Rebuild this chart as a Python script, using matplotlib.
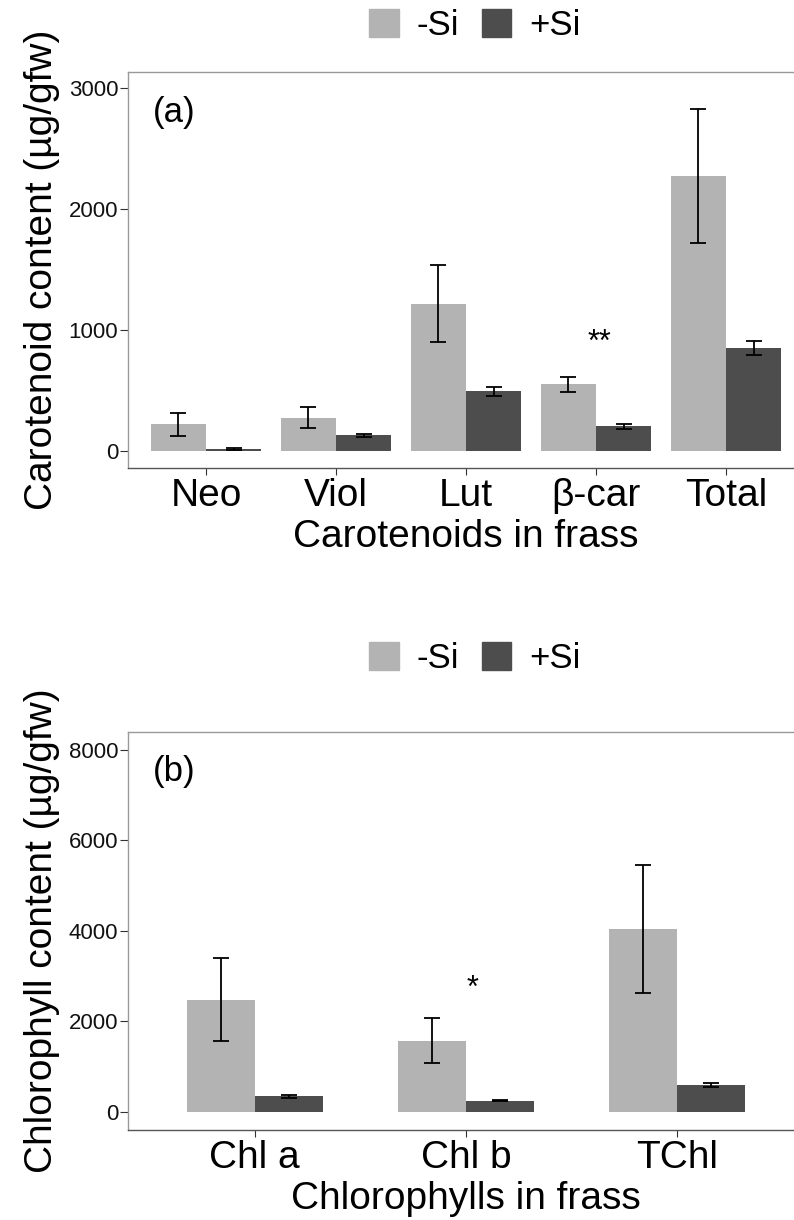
import matplotlib
matplotlib.use("Agg")
import matplotlib.pyplot as plt
from matplotlib.patches import Patch
import numpy as np

plt.rcParams['font.family'] = ['Liberation Sans', 'DejaVu Sans']

# panel (a) carotenoids
car_labels = ["Neo", "Viol", "Lut", "β-car", "Total"]
car_minus = [222, 275, 1216, 550, 2269]
car_minus_se = [95, 88, 317, 63, 555]
car_plus = [18, 130, 492, 203, 851]
car_plus_se = [8, 12, 37, 21, 61]
car_sig = {"β-car": "**"}

# panel (b) chlorophylls
chl_labels = ["Chl a", "Chl b", "TChl"]
chl_minus = [2470, 1570, 4040]
chl_minus_se = [915, 490, 1410]
chl_plus = [345, 245, 590]
chl_plus_se = [33, 15, 50]
chl_sig = {"Chl b": "*"}

light = "#b3b3b3"
dark = "#4d4d4d"

fig = plt.figure(figsize=(7.94, 12.2), dpi=100)
ax1 = fig.add_axes([128/794, 1-468/1220, 676/794, 396/1220])
ax2 = fig.add_axes([128/794, 1-1130/1220, 676/794, 398/1220])


def panel(ax, labels, mn, mn_se, pl, pl_se, w, ylim, yticks, sig, sig_y,
          tag, tag_xy, xlab, ylab, leg_y):
    x = np.arange(1, len(labels) + 1)
    ekw = dict(elinewidth=1.3, capthick=1.3, ecolor="black")
    ax.bar(x - w/2, mn, w, color=light, yerr=mn_se, capsize=6,
           error_kw=ekw, zorder=2)
    ax.bar(x + w/2, pl, w, color=dark, yerr=pl_se, capsize=6,
           error_kw=ekw, zorder=2)
    ax.set_xlim(0.4, len(labels) + 0.6)
    ax.set_ylim(*ylim)
    ax.set_xticks(x)
    ax.set_xticklabels(labels, fontsize=28)
    ax.set_yticks(yticks)
    ax.tick_params(axis="y", labelsize=16, length=6, width=0.8,
                   color="#333333", labelcolor="#111111", pad=1)
    ax.tick_params(axis="x", length=5, width=0.8, color="#333333", pad=2)
    for s in ["top", "left", "right"]:
        ax.spines[s].set_color("#999999")
        ax.spines[s].set_linewidth(1.0)
    ax.spines["bottom"].set_color("#555555")
    ax.spines["bottom"].set_linewidth(1.0)
    for k, v in sig.items():
        i = labels.index(k)
        ax.text(x[i] + 0.03, sig_y, v, fontsize=22, ha="center", va="center")
    ax.text(tag_xy[0], tag_xy[1], tag, fontsize=25, ha="left", va="center")
    ax.set_xlabel(xlab, fontsize=28)
    ax.xaxis.set_label_coords(0.5, -0.128)
    ax.xaxis.label.set_va("top")
    ax.set_ylabel(ylab, fontsize=28)
    ax.yaxis.set_label_coords(-0.10, 0.5)
    handles = [Patch(color=light, label="-Si"), Patch(color=dark, label="+Si")]
    ax.legend(handles=handles, loc="center", bbox_to_anchor=(0.513, leg_y),
              ncol=2, frameon=False, fontsize=25, handlelength=0.86,
              handleheight=0.86, handletextpad=0.5, columnspacing=0.65)


panel(ax1, car_labels, car_minus, car_minus_se, car_plus, car_plus_se,
      0.425, (-140, 3130), [0, 1000, 2000, 3000], car_sig, 893,
      "(a)", (0.592, 2794), "Carotenoids in frass",
      "Carotenoid content (µg/gfw)", 1.118)
panel(ax2, chl_labels, chl_minus, chl_minus_se, chl_plus, chl_plus_se,
      0.323, (-404, 8389), [0, 2000, 4000, 6000, 8000], chl_sig, 2709,
      "(b)", (0.518, 7506), "Chlorophylls in frass",
      "Chlorophyll content (µg/gfw)", 1.185)

fig.savefig("out.png", dpi=100)
